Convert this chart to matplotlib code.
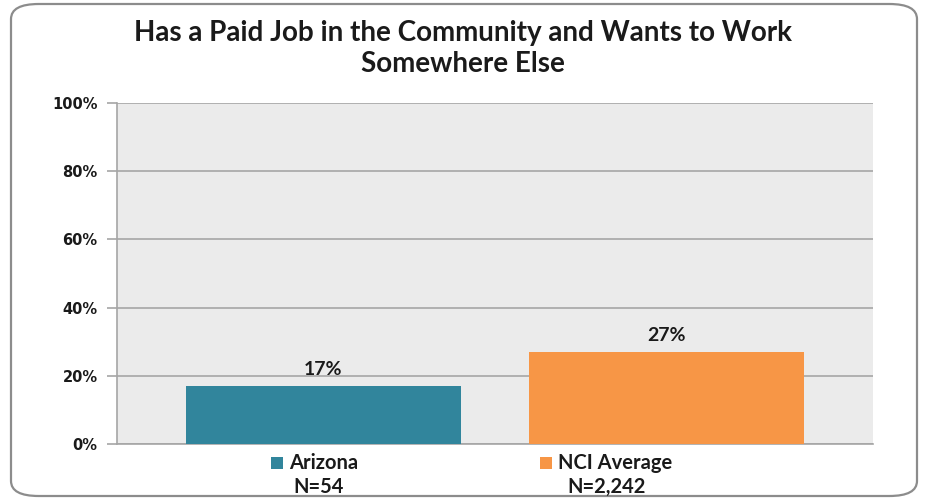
import matplotlib
matplotlib.use("Agg")
import matplotlib.pyplot as plt
from matplotlib.patches import FancyBboxPatch, Rectangle

categories = ["Arizona", "NCI Average"]
values = [17, 27]
n_labels = ["N=54", "N=2,242"]
colors = ["#31859c", "#f79646"]
yticks = [0, 20, 40, 60, 80, 100]
title_lines = ["Has a Paid Job in the Community and Wants to Work", "Somewhere Else"]

fig = plt.figure(figsize=(9.26, 5.01), dpi=100)
fig.patch.set_facecolor("white")

W, H = 926, 501
def fx(px):
    return px / W
def fy(py):
    return 1 - py / H

# rounded outer border
border = FancyBboxPatch((fx(11), fy(496)), (917-11)/W, (496-4)/H,
                        boxstyle="round,pad=0,rounding_size=0.03",
                        transform=fig.transFigure, facecolor="none",
                        edgecolor="#8c8c8c", linewidth=1.6)
fig.patches.append(border)

ax = fig.add_axes([fx(117), fy(444), (873-117)/W, (444-103)/H])
ax.set_facecolor("#ebebeb")
x = list(range(len(categories)))
ax.bar(x, values, width=0.80, color=colors, zorder=3)
ax.set_xlim(-0.602, 1.602)
ax.set_ylim(0, 100)
ax.set_yticks(yticks)
ax.set_yticklabels([f"{v}%" for v in yticks], fontweight="bold", fontsize=10.5,
                   family="DejaVu Sans", color="#1a1a1a")
ax.set_xticks([])
ax.grid(axis="y", color="#a6a6a6", linewidth=1.2, zorder=1)
for s in ["top", "right"]:
    ax.spines[s].set_visible(False)
for s in ["left", "bottom"]:
    ax.spines[s].set_color("#a6a6a6")
    ax.spines[s].set_linewidth(1.2)
ax.tick_params(axis="y", length=7, width=1.2, color="#a6a6a6", pad=7)

for xi, v in zip(x, values):
    ax.annotate(f"{v}%", (xi, v), xytext=(0, 6), textcoords="offset points",
                ha="center", va="bottom", fontweight="bold", fontsize=14,
                family="Lato", color="#1a1a1a")

for yp, line in zip([33, 64], title_lines):
    fig.text(0.5, fy(yp), line, ha="center", va="center", fontsize=20,
             fontweight="bold", family="Lato", color="#1a1a1a")

# legend (manual) with N labels underneath
sq_x = [271, 540]
for sx, c, cat in zip(sq_x, colors, categories):
    fig.add_artist(Rectangle((fx(sx), fy(469)), 12/W, 12/H, transform=fig.transFigure,
                             facecolor=c, edgecolor="none"))
    fig.text(fx(sx + 18), fy(463), cat, ha="left", va="center", fontsize=14.5,
             fontweight="bold", family="Lato", color="#1a1a1a")

for xpos, lab in zip([319, 607], n_labels):
    fig.text(fx(xpos), fy(487), lab, ha="center", va="center", fontsize=14.5,
             fontweight="bold", family="Lato", color="#1a1a1a")

fig.savefig("out.png", dpi=100)
